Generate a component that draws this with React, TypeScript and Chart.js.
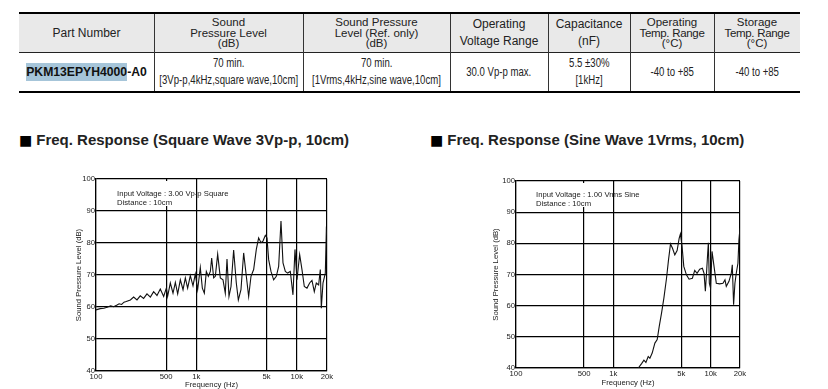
import React, { useEffect, useRef } from "react";
import { Chart, registerables } from "chart.js";
Chart.register(...registerables);

// ---------- data ----------
const xTickValues = [100, 500, 1000, 5000, 10000, 20000];
const xTickLabels = ["100", "500", "1k", "5k", "10k", "20k"];
const yMin = 40;
const yMax = 100;
const yStep = 10;

const squareFreq = [100, 110, 120, 129, 140, 150, 162, 170, 180, 190, 200, 220, 237, 256, 276, 298, 322, 348, 375, 405, 437, 472, 502, 517, 550, 585, 617, 651, 692, 736, 776, 818, 870, 925, 975, 1029, 1094, 1146, 1200, 1256, 1315, 1377, 1420, 1486, 1544, 1629, 1731, 1841, 1941, 2018, 2112, 2212, 2350, 2498, 2617, 2780, 2957, 3143, 3316, 3499, 3719, 3953, 4169, 4399, 4606, 4860, 5048, 5246, 5534, 5883, 6253, 6599, 6961, 7289, 7690, 8110, 8620, 9162, 9594, 10046, 10681, 11266, 11885, 12636, 13430, 14170, 14946, 15650, 16512, 17157, 17556, 18240, 19243, 19684, 20000];
const squareDb = [59.1, 59.5, 59.6, 59.9, 60.4, 60.1, 60.6, 61.0, 60.8, 61.5, 61.7, 62.2, 63.1, 62.2, 63.5, 62.7, 64.1, 63.1, 64.8, 63.6, 65.6, 63.3, 65.9, 63.3, 67.5, 64.3, 67.7, 64.1, 68.5, 65.4, 69.1, 65.9, 69.8, 66.6, 70.3, 65.4, 72.3, 65.9, 64.3, 71.1, 69.6, 71.1, 75.3, 69.1, 69.6, 76.5, 69.1, 68.5, 64.3, 75.0, 63.3, 66.4, 77.8, 67.5, 62.2, 65.4, 76.9, 69.6, 63.3, 69.6, 71.7, 78.0, 81.6, 80.1, 80.6, 82.4, 81.6, 74.8, 71.1, 68.5, 69.6, 72.7, 86.9, 73.8, 71.1, 70.6, 71.1, 63.8, 78.0, 68.5, 76.4, 71.7, 66.4, 65.9, 67.5, 68.3, 64.8, 67.5, 66.9, 71.7, 59.6, 67.5, 70.6, 83.7, 82.6];

const sineFreq = [1803, 1950, 2061, 2160, 2281, 2373, 2506, 2671, 2822, 2958, 3126, 3304, 3517, 3687, 3864, 4052, 4279, 4520, 4741, 4887, 5082, 5291, 5633, 5996, 6486, 6855, 7245, 7711, 8219, 8545, 8814, 9101, 9313, 9465, 9685, 9970, 10320, 10820, 11420, 12360, 13370, 14020, 14460, 15410, 16280, 16670, 17190, 17740, 18310, 19050, 19500, 20000];
const sineDb = [40, 41.4, 42.5, 41.8, 43.7, 43.1, 44.8, 48.0, 49.1, 53.3, 57.6, 62.4, 68.8, 74.7, 79.8, 78.4, 76.3, 77.7, 81.6, 83.0, 79.0, 72.6, 69.9, 68.5, 68.8, 71.3, 70.4, 71.7, 72.0, 70.4, 64.6, 71.5, 76.8, 80.2, 67.2, 65.6, 77.4, 72.6, 67.2, 67.0, 67.2, 68.3, 66.2, 67.8, 70.4, 73.1, 60.3, 67.2, 70.4, 73.6, 81.1, 84.8];

const headerCells = [
  ["Part Number"],
  ["Sound", "Pressure Level", "(dB)"],
  ["Sound Pressure", "Level (Ref. only)", "(dB)"],
  ["Operating", "Voltage Range"],
  ["Capacitance", "(nF)"],
  ["Operating", "Temp. Range", "(°C)"],
  ["Storage", "Temp. Range", "(°C)"],
];
const bodyCells = [
  ["PKM13EPYH4000-A0"],
  ["70 min.", "[3Vp-p,4kHz,square wave,10cm]"],
  ["70 min.", "[1Vrms,4kHz,sine wave,10cm]"],
  ["30.0 Vp-p max."],
  ["5.5 ±30%", "[1kHz]"],
  ["-40 to +85"],
  ["-40 to +85"],
];
const partHighlight = "PKM13EPYH4000";

const squareTitle = "Freq. Response (Square Wave 3Vp-p, 10cm)";
const sineTitle = "Freq. Response (Sine Wave 1Vrms, 10cm)";
const squareNote = ["Input Voltage : 3.00 Vp-p Square", "Distance : 10cm"];
const sineNote = ["Input Voltage : 1.00 Vrms Sine", "Distance : 10cm"];
const xTitle = "Frequency (Hz)";
const yTitle = "Sound Pressure Level (dB)";

// ---------- layout ----------
const colEdges = [19, 154, 303, 450, 548, 630, 714, 800];
const FONT = "'Liberation Sans', Arial, Helvetica, sans-serif";
const chartFont = { family: FONT, size: 7.7 };
const textColor = "#1a1a1a";

type ChartProps = {
  freqs: number[];
  dbs: number[];
  left: number;
  top: number;
  padTop: number;
  padRight: number;
  xHeight: number;
  yTitlePad: number;
  xTitlePad: number;
};

function FreqChart(p: ChartProps) {
  const ref = useRef<HTMLCanvasElement>(null);
  useEffect(() => {
    const grid = { color: "#000", lineWidth: 1.2, drawTicks: false };
    const border = { color: "#000", width: 1.2 };
    const chart = new Chart(ref.current!, {
      type: "line",
      data: {
        datasets: [
          {
            data: p.freqs.map((f, i) => ({ x: f, y: p.dbs[i] })),
            borderColor: "#111",
            borderWidth: 1.1,
            pointRadius: 0,
            tension: 0,
            fill: false,
          },
        ],
      },
      options: {
        animation: false,
        responsive: false,
        maintainAspectRatio: false,
        devicePixelRatio: 1,
        layout: { padding: { left: 0, right: p.padRight, top: p.padTop, bottom: 0 } },
        plugins: { legend: { display: false }, tooltip: { enabled: false } },
        scales: {
          x: {
            type: "logarithmic",
            min: 100,
            max: 20000,
            afterBuildTicks: (s: any) => {
              s.ticks = xTickValues.map((v) => ({ value: v }));
            },
            afterFit: (s: any) => {
              s.height = p.xHeight;
            },
            ticks: {
              autoSkip: false,
              maxRotation: 0,
              padding: 1,
              font: chartFont,
              color: textColor,
              callback: (v: any) => {
                const i = xTickValues.indexOf(Number(v));
                return i >= 0 ? xTickLabels[i] : "";
              },
            },
            grid,
            border,
            title: { display: true, text: xTitle, font: chartFont, color: textColor, padding: { top: 0, bottom: p.xTitlePad } },
          },
          y: {
            min: yMin,
            max: yMax,
            afterFit: (s: any) => {
              s.width = 36;
            },
            ticks: { stepSize: yStep, padding: 1, font: chartFont, color: textColor },
            grid,
            border,
            title: { display: true, text: yTitle, font: chartFont, color: textColor, padding: { top: p.yTitlePad, bottom: 0 } },
          },
        },
      } as any,
    });
    return () => chart.destroy();
  }, []);
  return (
    <canvas
      ref={ref}
      width={280}
      height={219}
      style={{ position: "absolute", left: p.left, top: p.top, width: 280, height: 219 }}
    />
  );
}

function Note({ lines, left, top, box }: { lines: string[]; left: number; top: number; box: { left: number; top: number; width: number; height: number } }) {
  return (
    <>
      <div style={{ position: "absolute", left: box.left, top: box.top, width: box.width, height: box.height, background: "#fff" }} />
      <div style={{ position: "absolute", left, top, fontFamily: FONT, fontSize: 7.7, lineHeight: "9px", color: textColor, whiteSpace: "nowrap" }}>
        {lines.map((l, i) => (
          <div key={i}>{l}</div>
        ))}
      </div>
    </>
  );
}

function Heading({ text, left, top }: { text: string; left: number; top: number }) {
  return (
    <div style={{ position: "absolute", left, top, fontFamily: FONT, fontSize: 15, fontWeight: "bold", color: "#222", whiteSpace: "nowrap", lineHeight: "17px" }}>
      <span style={{ fontFamily: "'DejaVu Sans', sans-serif", fontSize: 14, fontWeight: "normal", color: "#000", marginRight: 4 }}>■</span>
      {text}
    </div>
  );
}

function Table() {
  const els: any[] = [];
  const tableLeft = colEdges[0];
  const tableRight = colEdges[colEdges.length - 1];
  els.push(<div key="hbg" style={{ position: "absolute", left: tableLeft, top: 14, width: tableRight - tableLeft, height: 38, background: "#e9e9e9" }} />);
  els.push(<div key="tb" style={{ position: "absolute", left: tableLeft, top: 12, width: tableRight - tableLeft, height: 2, background: "#000" }} />);
  els.push(<div key="hb" style={{ position: "absolute", left: tableLeft, top: 52, width: tableRight - tableLeft, height: 1, background: "#222" }} />);
  els.push(<div key="bb" style={{ position: "absolute", left: tableLeft, top: 91, width: tableRight - tableLeft, height: 2, background: "#000" }} />);
  for (let i = 1; i < colEdges.length - 1; i++) {
    els.push(<div key={"v" + i} style={{ position: "absolute", left: colEdges[i], top: 14, width: 1, height: 77, background: "#333" }} />);
  }
  headerCells.forEach((lines, i) => {
    const lh = lines.length === 3 ? 10.5 : lines.length === 2 ? 17 : 14;
    els.push(
      <div key={"h" + i} style={{ position: "absolute", left: colEdges[i], top: 14, width: colEdges[i + 1] - colEdges[i], height: 38, display: "flex", flexDirection: "column", justifyContent: "center", alignItems: "center", fontFamily: FONT, fontSize: lines.length === 3 ? 11.5 : 12, lineHeight: lh + "px", color: "#222", whiteSpace: "nowrap" }}>
        {lines.map((l, j) => (
          <div key={j} style={{ letterSpacing: l.startsWith("Temp") ? -0.3 : 0 }}>{l}</div>
        ))}
      </div>
    );
  });
  bodyCells.forEach((lines, i) => {
    const isPart = i === 0;
    els.push(
      <div key={"b" + i} style={{ position: "absolute", left: colEdges[i], top: 53, width: colEdges[i + 1] - colEdges[i], height: 38, display: "flex", flexDirection: "column", justifyContent: "center", alignItems: "center", fontFamily: FONT, fontSize: 12, lineHeight: "17px", color: "#222", whiteSpace: "nowrap" }}>
        {lines.map((l, j) =>
          isPart ? (
            <div key={j} style={{ fontWeight: "bold", color: "#111", fontSize: 12.2 }}>
              <span style={{ background: "#a6c5d9", padding: "2px 0" }}>{l.slice(0, partHighlight.length)}</span>
              {l.slice(partHighlight.length)}
            </div>
          ) : (
            <div key={j} style={{ transform: "scaleX(0.8)" }}>{l}</div>
          )
        )}
      </div>
    );
  });
  return <>{els}</>;
}

export default function App() {
  return (
    <div style={{ position: "fixed", left: 0, top: 0, width: 828, height: 389, overflow: "hidden", background: "#fff" }}>
      <Table />
      <Heading text={squareTitle} left={19} top={131} />
      <Heading text={sineTitle} left={430} top={131} />
      <FreqChart freqs={squareFreq} dbs={squareDb} left={60} top={170} padTop={9} padRight={13} xHeight={18} yTitlePad={14} xTitlePad={-1} />
      <FreqChart freqs={sineFreq} dbs={sineDb} left={480} top={170} padTop={11} padRight={20} xHeight={21} yTitlePad={11} xTitlePad={1} />
      <Note lines={squareNote} left={117} top={189} box={{ left: 112, top: 181, width: 64, height: 25 }} />
      <Note lines={sineNote} left={536} top={190} box={{ left: 531, top: 183, width: 62, height: 24 }} />
    </div>
  );
}
